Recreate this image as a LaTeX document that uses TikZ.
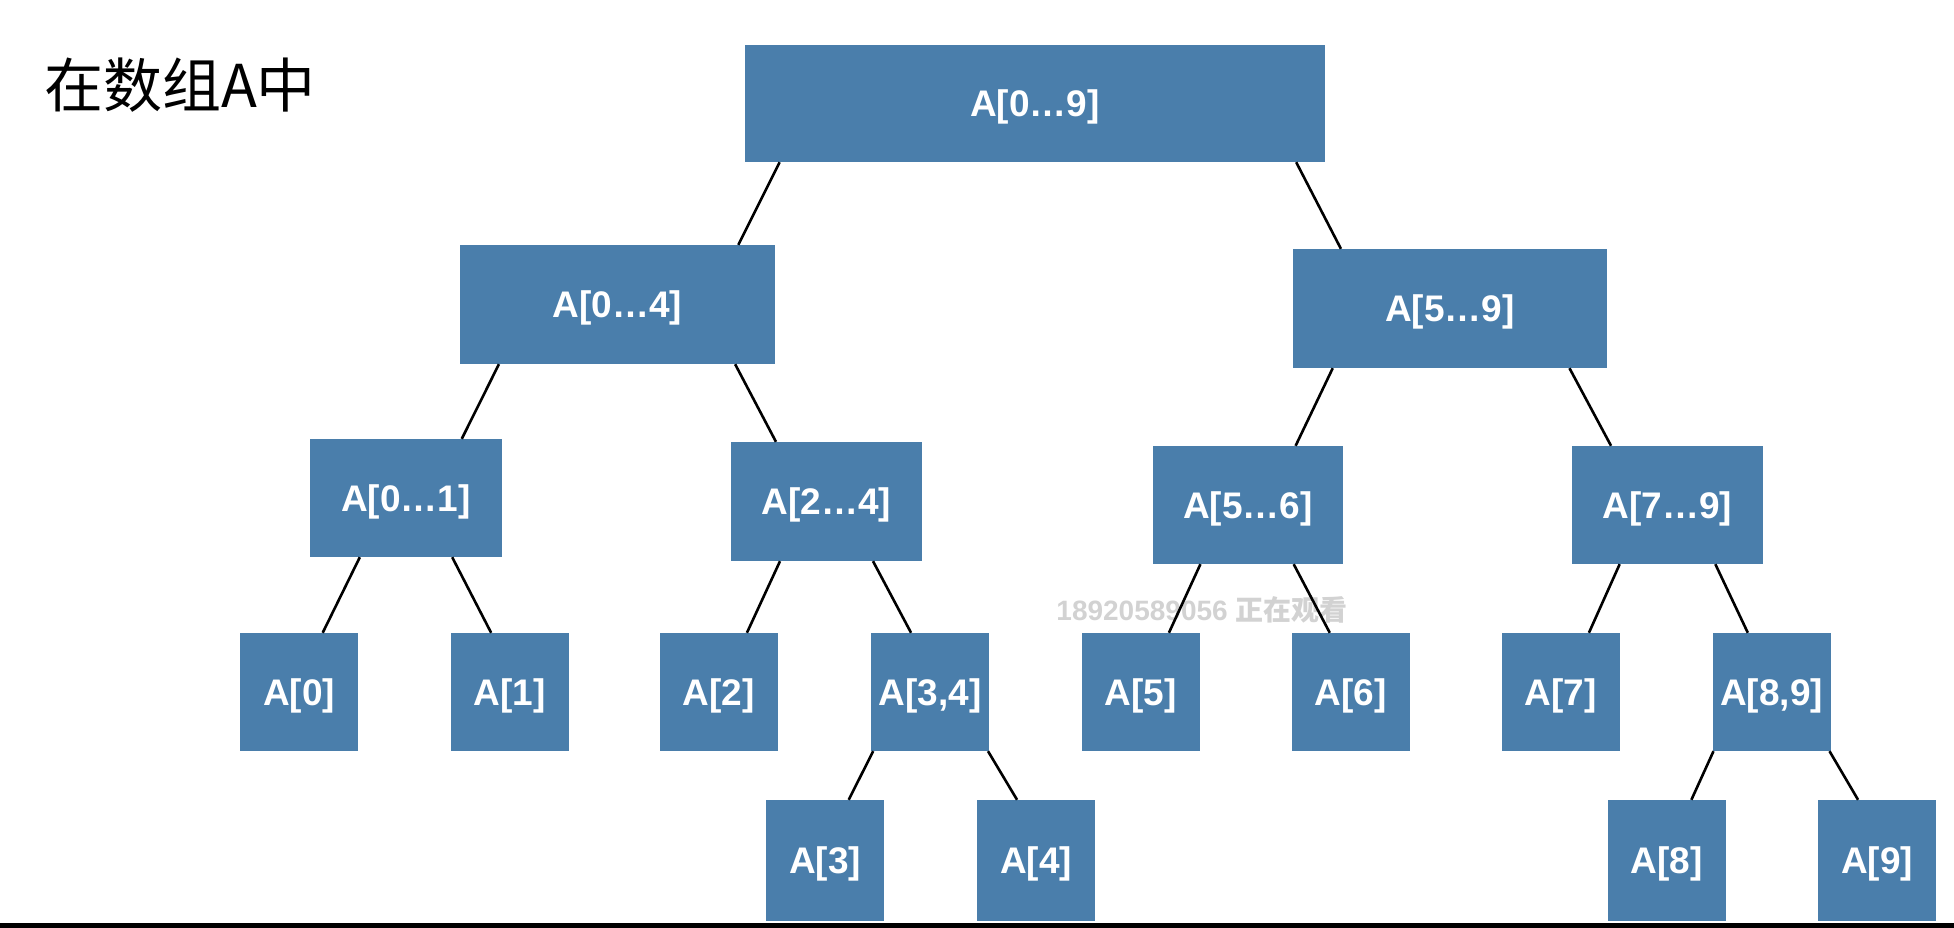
\documentclass[tikz,border=0pt]{standalone}
\usepackage{fontspec}
\setmainfont{Liberation Sans}
\newfontfamily\cjk{Noto Sans CJK SC}
\usetikzlibrary{calc}
\definecolor{cellblue}{HTML}{4A7EAB}
\definecolor{markgray}{HTML}{D2D2D2}

\begin{document}
\begin{tikzpicture}[x=1pt,y=-1pt,
   cell/.style={fill=cellblue,text=white,inner sep=0pt,text height=26pt,text depth=0pt,
      font=\bfseries\fontsize{37}{40}\selectfont},
   leaf/.style={cell,minimum width=118pt,minimum height=118pt},
   link/.style={line width=2.6pt}]
\useasboundingbox (0,0) rectangle (1954,928);

\node[font=\cjk\fontsize{59}{64}\selectfont] (title) at (180,85) {在数组A中};
\node[text=markgray,font=\bfseries\fontsize{28}{32}\selectfont] (mark) at (1202,610)
   {18920589056 {\cjk 正在观看}};

% ranges
\node[cell,minimum width=580pt,minimum height=117pt] (r09) at (1035,103.5) {A[0…9]};
\node[cell,minimum width=315pt,minimum height=119pt] (r04) at (617.5,304.5) {A[0…4]};
\node[cell,minimum width=314pt,minimum height=119pt] (r59) at (1450,308.5) {A[5…9]};
\node[cell,minimum width=192pt,minimum height=118pt] (r01) at (406,498) {A[0…1]};
\node[cell,minimum width=191pt,minimum height=119pt] (r24) at (826.5,501.5) {A[2…4]};
\node[cell,minimum width=190pt,minimum height=118pt] (r56) at (1248,505) {A[5…6]};
\node[cell,minimum width=191pt,minimum height=118pt] (r79) at (1667.5,505) {A[7…9]};

% single cells and pairs
\node[leaf] (a0) at (299,692) {A[0]};
\node[leaf] (a1) at (509.5,692) {A[1]};
\node[leaf] (a2) at (718.5,692) {A[2]};
\node[leaf] (a34) at (930,692) {A[3,4]};
\node[leaf] (a5) at (1140.5,692) {A[5]};
\node[leaf] (a6) at (1350.5,692) {A[6]};
\node[leaf] (a7) at (1560.5,692) {A[7]};
\node[leaf] (a89) at (1771.5,692) {A[8,9]};
\node[leaf,minimum height=121pt] (a3) at (825,860.5) {A[3]};
\node[leaf,minimum height=121pt] (a4) at (1036,860.5) {A[4]};
\node[leaf,minimum height=121pt] (a8) at (1666.5,860.5) {A[8]};
\node[leaf,minimum height=121pt] (a9) at (1877,860.5) {A[9]};

% splits
\draw[link] ($(r09.south west)!.06!(r09.south east)$) -- ($(r04.north west)!.883!(r04.north east)$);
\draw[link] ($(r09.south west)!.95!(r09.south east)$) -- ($(r59.north west)!.153!(r59.north east)$);
\draw[link] ($(r04.south west)!.124!(r04.south east)$) -- ($(r01.north west)!.79!(r01.north east)$);
\draw[link] ($(r04.south west)!.873!(r04.south east)$) -- ($(r24.north west)!.236!(r24.north east)$);
\draw[link] ($(r59.south west)!.127!(r59.south east)$) -- ($(r56.north west)!.75!(r56.north east)$);
\draw[link] ($(r59.south west)!.88!(r59.south east)$) -- ($(r79.north west)!.205!(r79.north east)$);
\draw[link] ($(r01.south west)!.26!(r01.south east)$) -- ($(a0.north west)!.70!(a0.north east)$);
\draw[link] ($(r01.south west)!.74!(r01.south east)$) -- ($(a1.north west)!.345!(a1.north east)$);
\draw[link] ($(r24.south west)!.257!(r24.south east)$) -- ($(a2.north west)!.74!(a2.north east)$);
\draw[link] ($(r24.south west)!.743!(r24.south east)$) -- ($(a34.north west)!.34!(a34.north east)$);
\draw[link] ($(r56.south west)!.25!(r56.south east)$) -- ($(a5.north west)!.74!(a5.north east)$);
\draw[link] ($(r56.south west)!.74!(r56.south east)$) -- ($(a6.north west)!.325!(a6.north east)$);
\draw[link] ($(r79.south west)!.25!(r79.south east)$) -- ($(a7.north west)!.74!(a7.north east)$);
\draw[link] ($(r79.south west)!.75!(r79.south east)$) -- ($(a89.north west)!.30!(a89.north east)$);
\draw[link] ($(a34.south west)!.02!(a34.south east)$) -- ($(a3.north west)!.70!(a3.north east)$);
\draw[link] ($(a34.south west)!.99!(a34.south east)$) -- ($(a4.north west)!.34!(a4.north east)$);
\draw[link] ($(a89.south west)!.01!(a89.south east)$) -- ($(a8.north west)!.71!(a8.north east)$);
\draw[link] ($(a89.south west)!.99!(a89.south east)$) -- ($(a9.north west)!.34!(a9.north east)$);

\fill[black] (0,923) rectangle (1954,928);
\end{tikzpicture}
\end{document}
